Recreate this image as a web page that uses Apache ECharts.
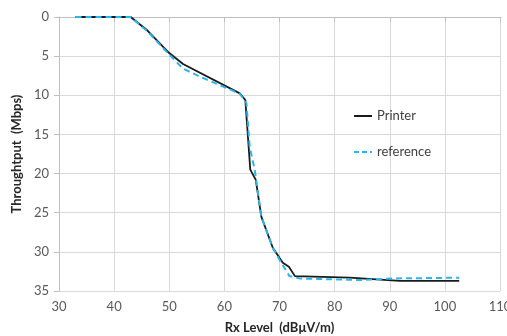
<!DOCTYPE html>
<html>
<head>
<meta charset="utf-8">
<script src="https://cdn.jsdelivr.net/npm/echarts@6/dist/echarts.min.js"></script>
<style>
html,body{margin:0;padding:0;background:#fff;}
#c{width:507px;height:336px;}
</style>
</head>
<body>
<div id="c"></div>
<script>
const printerX = [33, 43, 46, 50, 52.5, 62.8, 63.8, 64.7, 65.7, 66.7, 68.8, 70.6, 71.7, 72.8, 82.7, 91.8, 102.6];
const printerY = [0, 0, 1.7, 4.6, 6.0, 9.75, 10.6, 19.5, 20.8, 25.5, 29.5, 31.4, 31.9, 33.1, 33.3, 33.7, 33.7];
const referenceX = [33, 43, 46, 50, 52.5, 55.5, 62.8, 64, 64.6, 65.5, 66.7, 68.8, 70, 71.8, 73.7, 84.5, 90.5, 102.6];
const referenceY = [0, 0, 1.8, 4.8, 6.6, 7.6, 9.8, 11, 16.6, 19.5, 25.5, 29.5, 31.0, 33.1, 33.4, 33.6, 33.4, 33.3];
const seriesNames = ['Printer', 'reference'];
const xTitle = 'Rx Level  (dBμV/m)';
const yTitle = 'Throughtput  (Mbps)';

const zip = (xs, ys) => xs.map((x, i) => [x, ys[i]]);
const font = 'Lato, "Open Sans", "Liberation Sans", sans-serif';
const chart = echarts.init(document.getElementById('c'), null, {renderer: 'canvas'});
chart.setOption({
  animation: false,
  backgroundColor: '#fff',
  grid: {left: 59, right: 7, top: 17, bottom: 45, containLabel: false, outerBoundsMode: 'none'},
  legend: {
    orient: 'vertical', left: 349, top: 103, itemWidth: 18, itemHeight: 2, itemGap: 20,
    textStyle: {color: '#404040', fontSize: 13, fontFamily: font, lineHeight: 16},
    data: [
      {name: seriesNames[0], icon: 'path://M0,0H18V2H0Z'},
      {name: seriesNames[1], icon: 'path://M0,0H5V2H0Z M8,0H13V2H8Z M16,0H18V2H16Z'}
    ]
  },
  xAxis: {
    type: 'value', min: 30, max: 110, interval: 10,
    name: xTitle, nameLocation: 'middle', nameGap: 30,
    nameTextStyle: {color: '#262626', fontSize: 13, fontWeight: 'bold', fontFamily: font},
    axisLine: {show: true, lineStyle: {color: '#bfbfbf', width: 1}},
    axisTick: {show: true, length: 5, lineStyle: {color: '#bfbfbf'}},
    axisLabel: {color: '#595959', fontSize: 13, fontFamily: font, margin: 9},
    splitLine: {show: true, lineStyle: {color: '#d9d9d9', width: 1}}
  },
  yAxis: {
    type: 'value', min: 0, max: 35, interval: 5, inverse: true,
    name: yTitle, nameLocation: 'middle', nameGap: 33, nameRotate: 90,
    nameTextStyle: {color: '#262626', fontSize: 13, fontWeight: 'bold', fontFamily: font},
    axisLine: {show: true, lineStyle: {color: '#bfbfbf', width: 1}},
    axisTick: {show: true, length: 5, lineStyle: {color: '#bfbfbf'}},
    axisLabel: {color: '#595959', fontSize: 13, fontFamily: font, margin: 10},
    splitLine: {show: true, lineStyle: {color: '#d9d9d9', width: 1}}
  },
  series: [
    {
      name: seriesNames[0], type: 'line', showSymbol: false, symbol: 'none',
      data: zip(printerX, printerY),
      lineStyle: {color: '#1a1a1a', width: 1.8},
      itemStyle: {color: '#1a1a1a'}
    },
    {
      name: seriesNames[1], type: 'line', showSymbol: false, symbol: 'none',
      data: zip(referenceX, referenceY),
      lineStyle: {color: '#29b5ee', width: 2, type: [6, 4]},
      itemStyle: {color: '#29b5ee'}
    }
  ]
});
</script>
</body>
</html>
